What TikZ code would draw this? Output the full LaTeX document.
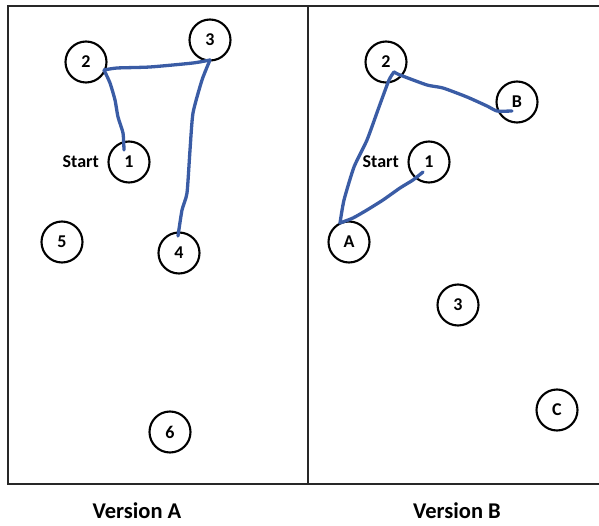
\documentclass[tikz,border=0pt]{standalone}
\usepackage{fontspec}
\setmainfont{Carlito}
\usetikzlibrary{calc}
\definecolor{penblue}{RGB}{58,92,165}
\definecolor{framegray}{RGB}{40,40,40}
\tikzset{
  spot/.style={circle, draw=black, line width=2.1pt, minimum size=41pt, inner sep=0pt, font=\fontsize{18}{18}\selectfont\bfseries},
  lbl/.style={font=\fontsize{18}{18}\selectfont\bfseries, inner sep=0pt},
  ttl/.style={font=\fontsize{22.5}{22.5}\selectfont\bfseries, inner sep=0pt},
  frameline/.style={draw=framegray, line width=1.8pt},
  pen/.style={draw=penblue, line width=3.3pt, line cap=round, line join=round}
}
\begin{document}
\begin{tikzpicture}[x=1pt,y=-1pt]
\useasboundingbox (0,0) rectangle (599,526);
% frame
\coordinate (tl) at (8,6);
\coordinate (tr) at (600,6);
\coordinate (bl) at (8,484);
\coordinate (br) at (600,484);
\coordinate (dt) at (308,6);
\coordinate (db) at (308,484);
\draw[frameline] (tr) -- (tl) -- (bl) -- (br);
\draw[frameline] (dt) -- (db);
% Version A
\node[spot] (a2) at (86,62) {2};
\node[spot] (a3) at (210,40) {3};
\node[spot] (a1) at (129,162) {1};
\node[spot] (a5) at (62,242) {5};
\node[spot] (a4) at (179,253) {4};
\node[spot] (a6) at (170,432) {6};
\node[lbl, anchor=east] (sa) at ($(a1)+(-30,0)$) {Start};
% Version B
\node[spot] (b2) at (386,62) {2};
\node[spot] (bB) at (517,102) {B};
\node[spot] (b1) at (429,162) {1};
\node[spot] (bA) at (349,242) {A};
\node[spot] (b3) at (458,305) {3};
\node[spot] (bC) at (557,410) {C};
\node[lbl, anchor=east] (sb) at ($(b1)+(-30,0)$) {Start};
% titles
\node[ttl] (ta) at (137,511) {Version A};
\node[ttl] (tb) at (457,511) {Version B};
% pen strokes, Version A
\coordinate (pa1) at ($(a1)+(-5,-12)$);
\coordinate (pa2) at ($(a2)+(18,8)$);
\coordinate (pa3) at ($(a3)+(0,20)$);
\coordinate (pa4) at ($(a4)+(-1,-17)$);
\draw[pen] plot[smooth, tension=0.35] coordinates {(pa1) (123,133) (118,117) (115,100) (110,83) (pa2)};
\draw[pen] plot[smooth, tension=0.35] coordinates {(pa2) (117,68) (150,67) (193,63) (pa3)};
\draw[pen] plot[smooth, tension=0.35] coordinates {(pa3) (202,80) (193,113) (190,150) (187,193) (182,210) (pa4)};
% pen strokes, Version B
\coordinate (pb1) at ($(b1)+(-6,10)$);
\coordinate (pbA) at ($(bA)+(-9,-19)$);
\coordinate (pb2) at ($(b2)+(8,10)$);
\coordinate (pbB) at ($(bB)+(-5,9)$);
\draw[pen] plot[smooth, tension=0.35] coordinates {(pb1) (413,180) (400,188) (383,200) (367,210) (353,218) (pbA)};
\draw[pen] plot[smooth, tension=0.35] coordinates {(pbA) (344,200) (354,167) (367,140) (379,107) (389,80) (pb2)};
\draw[pen] plot[smooth, tension=0.35] coordinates {(pb2) (400,75) (427,85) (443,88) (467,97) (487,106) (497,111) (pbB)};
\end{tikzpicture}
\end{document}
